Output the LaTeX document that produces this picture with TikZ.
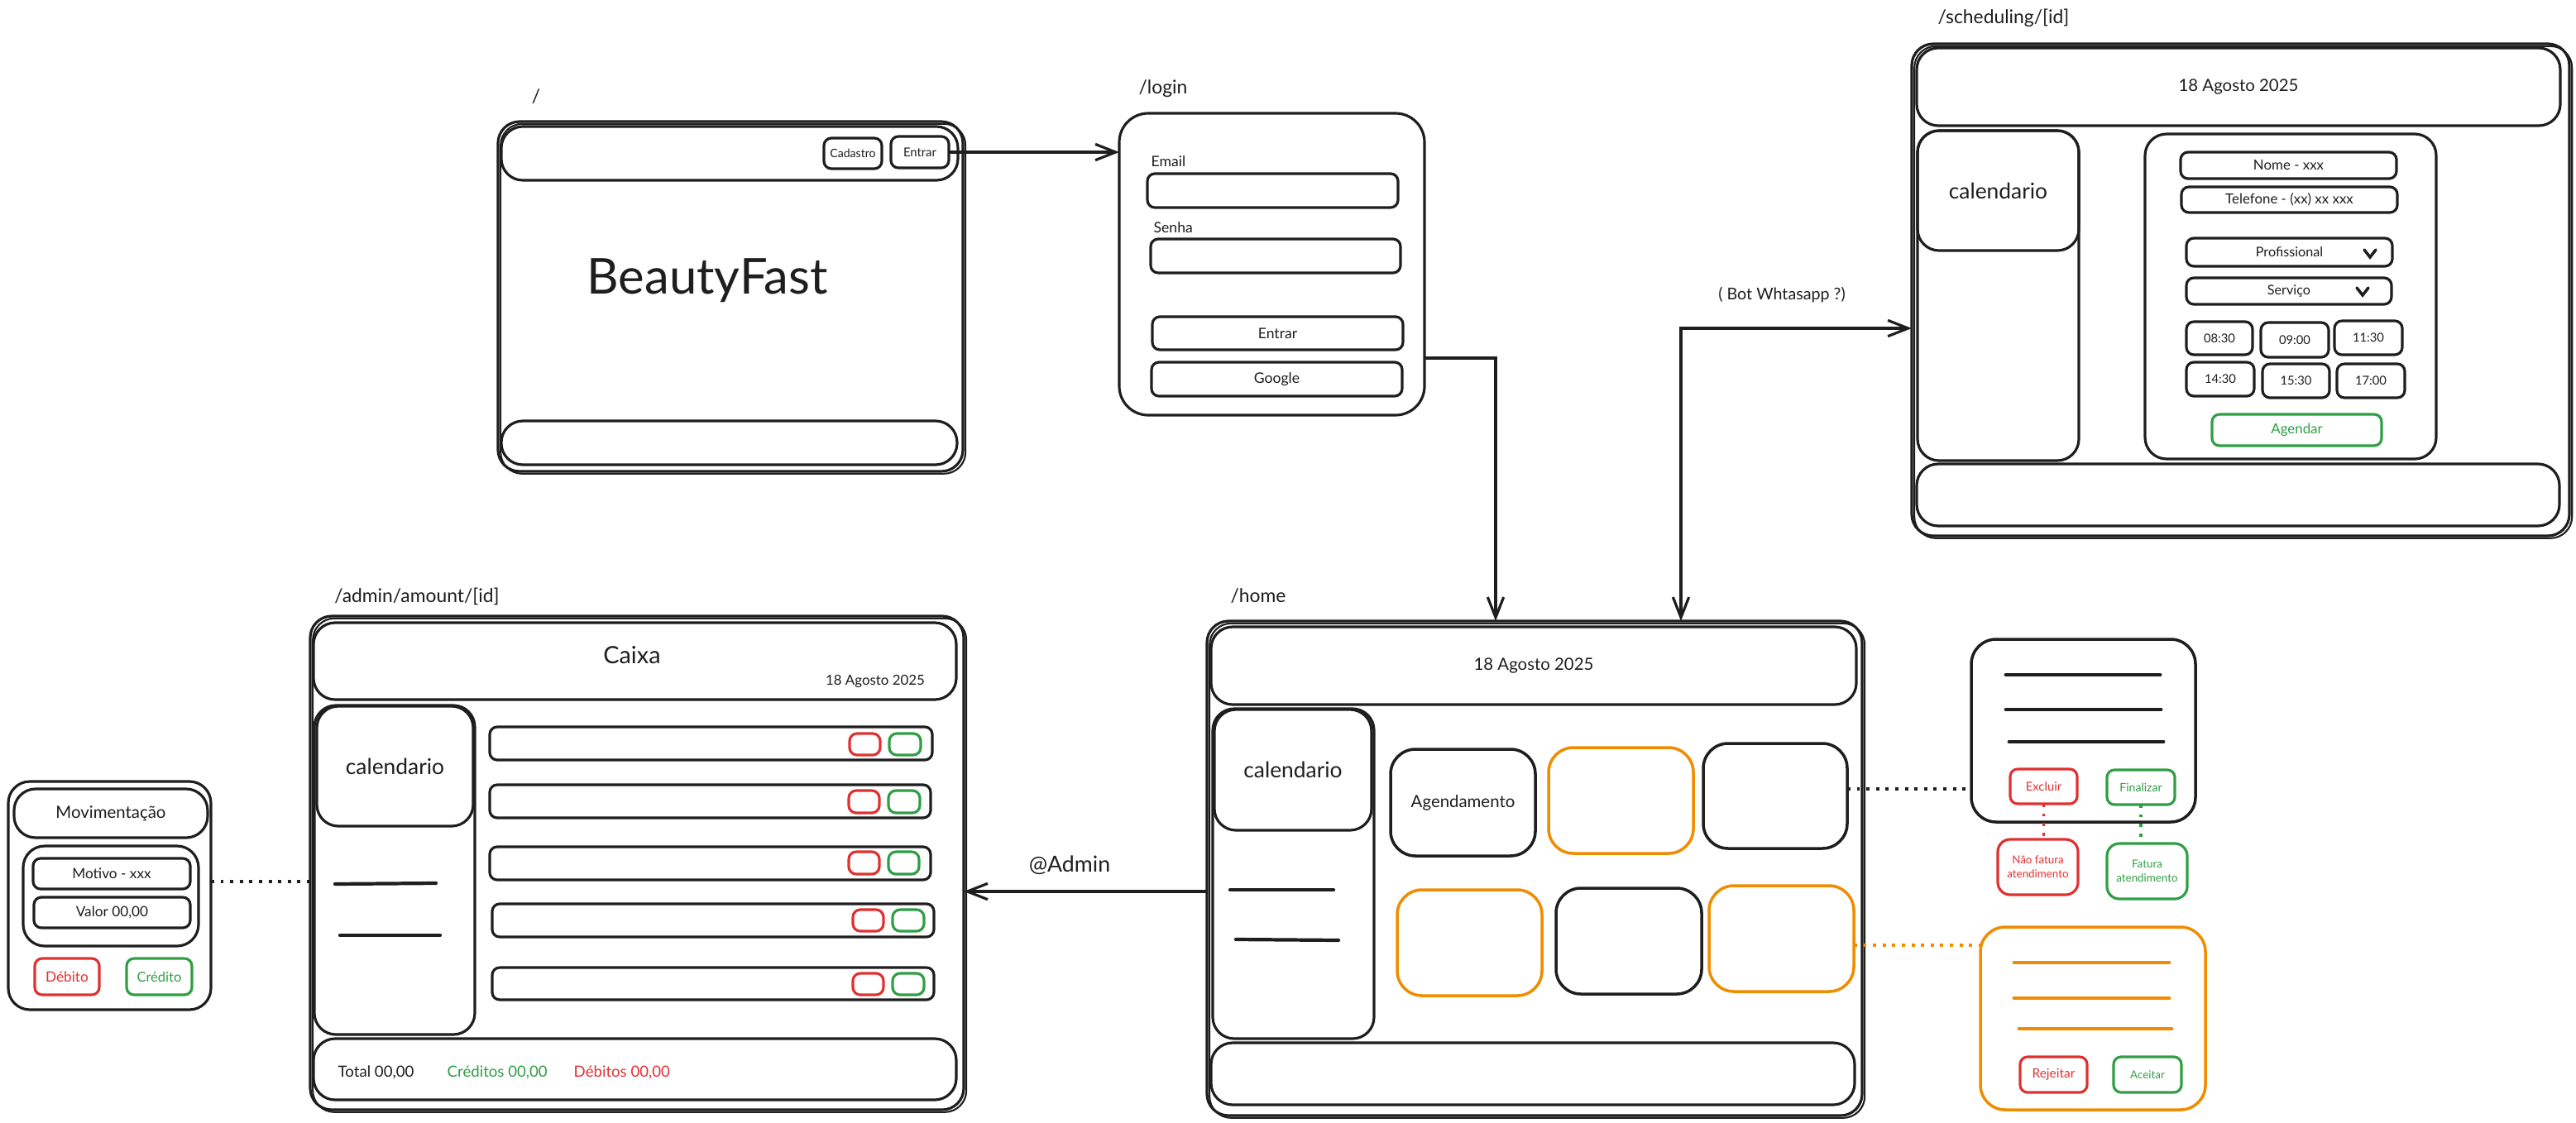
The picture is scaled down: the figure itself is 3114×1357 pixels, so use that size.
\documentclass[tikz,border=0pt]{standalone}
\usepackage{fontspec}
\setmainfont{Lato}
\usetikzlibrary{arrows.meta}

\definecolor{ink}{HTML}{1E1E1E}
\definecolor{xred}{HTML}{E03131}
\definecolor{xgreen}{HTML}{2F9E44}
\definecolor{xorange}{HTML}{F08C00}

\newcommand{\fsz}[2]{\fontsize{#1}{#2}\selectfont}
% \bx[options]{name}{x1}{y1}{x2}{y2}{text}: a box given by its corners (pixel units)
\newcommand{\bx}[7][]{%
  \node[box,#1,minimum width={(#5-#3)*0.01cm},minimum height={(#6-#4)*0.01cm}]
    (#2) at ({(#3+#5)/2},{(#4+#6)/2}) {#7};}

\tikzset{
  box/.style={draw=ink, text=ink, line width=0.9pt, inner sep=0pt, outer sep=0pt,
    rounded corners=0.22cm},
  frame/.style={rounded corners=0.26cm},
  dbl/.style={postaction={draw=ink, line width=0.6pt,
    transform canvas={shift={(0.9pt,-0.8pt)}}}},
  btn/.style={rounded corners=0.09cm},
  card/.style={rounded corners=0.3cm, line width=1pt},
  redb/.style={draw=xred, text=xred},
  greenb/.style={draw=xgreen, text=xgreen},
  orangeb/.style={draw=xorange},
  lbl/.style={text=ink, inner sep=0pt, font=\fsz{6.5}{8}},
  txt/.style={text=ink, inner sep=0pt},
  bar/.style={draw=ink, line width=1.2pt, line cap=round},
  arr/.style={draw=ink, line width=0.9pt, -{Straight Barb[length=7pt,width=5.5pt]}},
  arrb/.style={draw=ink, line width=0.9pt,
    {Straight Barb[length=7pt,width=5.5pt]}-{Straight Barb[length=7pt,width=5.5pt]}},
  dots/.style={line width=1.1pt, dash pattern=on 1.1pt off 2.2pt},
}

\begin{document}
\begin{tikzpicture}[x=0.01cm, y=-0.01cm]
\useasboundingbox (0,0) rectangle (3114,1357);

%% ---------- landing page "/" ----------
\node[lbl] (lroot) at (648,117) {/};
\bx[frame,dbl]{root}{602}{147}{1164}{570}{}
\bx[frame]{rooth}{606}{153}{1158}{218}{}
\bx[frame]{rootf}{606}{509}{1157}{562}{}
\bx[btn]{cad}{996}{167}{1066}{204}{\fsz{4}{5}Cadastro}
\bx[btn]{ent}{1077}{165}{1147}{203}{\fsz{4.2}{5}Entrar}
\node[txt, anchor=base, font=\fsz{17}{20}] (brand) at (855,355) {BeautyFast};

%% ---------- /login ----------
\node[lbl] (llogin) at (1406,107) {/login};
\bx[rounded corners=0.35cm]{login}{1353}{137}{1722}{502}{}
\node[txt, anchor=base west, font=\fsz{5}{6}] (lemail) at (1391,201) {Email};
\bx[btn]{email}{1387}{210}{1690}{251}{}
\node[txt, anchor=base west, font=\fsz{5}{6}] (lsenha) at (1394,281) {Senha};
\bx[btn]{senha}{1391}{289}{1693}{330}{}
\bx[btn, font=\fsz{5}{6}]{lentrar}{1393}{383}{1696}{423}{Entrar}
\bx[btn, font=\fsz{5}{6}]{google}{1392}{438}{1695}{479}{Google}

%% ---------- /scheduling/[id] ----------
\node[lbl] (lsched) at (2422,22) {/scheduling/[id]};
\bx[frame,dbl]{sched}{2311}{53}{3106}{648}{}
\bx[frame, font=\fsz{5.8}{7}]{schedh}{2317}{58}{3095}{152}{18 Agosto 2025}
\bx[frame]{schedcol}{2318}{158}{2513}{557}{}
\bx[frame, font=\fsz{7.5}{9}]{schedcal}{2318}{158}{2513}{303}{calendario}
\bx[frame]{form}{2593}{162}{2945}{555}{}
\bx[btn, font=\fsz{4.8}{6}]{nome}{2636}{184}{2897}{216}{Nome - xxx}
\bx[btn, font=\fsz{4.8}{6}]{tel}{2637}{226}{2898}{257}{Telefone - (xx) xx xxx}
\bx[btn, font=\fsz{4.6}{6}]{prof}{2643}{288}{2892}{322}{Profissional}
\bx[btn, font=\fsz{4.6}{6}]{serv}{2643}{336}{2891}{368}{Serviço}
\draw[ink, line width=1pt, line cap=round] (2858,302) -- (2865,311) -- (2872,302);
\draw[ink, line width=1pt, line cap=round] (2849,348) -- (2856,357) -- (2863,348);
\bx[btn, font=\fsz{4.2}{5}]{s0830}{2643}{389}{2723}{429}{08:30}
\bx[btn, font=\fsz{4.2}{5}]{s0900}{2733}{390}{2815}{432}{09:00}
\bx[btn, font=\fsz{4.2}{5}]{s1130}{2822}{388}{2904}{429}{11:30}
\bx[btn, font=\fsz{4.2}{5}]{s1430}{2643}{438}{2725}{479}{14:30}
\bx[btn, font=\fsz{4.2}{5}]{s1530}{2735}{440}{2816}{481}{15:30}
\bx[btn, font=\fsz{4.2}{5}]{s1700}{2825}{440}{2907}{481}{17:00}
\bx[btn, greenb, font=\fsz{4.8}{6}]{agendar}{2674}{501}{2879}{539}{Agendar}
\bx[frame]{schedf}{2317}{561}{3094}{636}{}

%% ---------- /home ----------
\node[lbl] (lhome) at (1521,721) {/home};
\bx[frame,dbl]{home}{1459}{751}{2251}{1349}{}
\bx[frame, font=\fsz{5.8}{7}]{homeh}{1464}{758}{2244}{852}{18 Agosto 2025}
\bx[frame]{homecol}{1466}{857}{1661}{1256}{}
\bx[frame, font=\fsz{7.5}{9}]{homecal}{1468}{858}{1658}{1004}{calendario}
\draw[bar] (1487,1076) -- (1612,1076);
\draw[bar] (1494,1136) -- (1618,1137);
\bx[card, font=\fsz{5.8}{7}]{card1}{1681}{906}{1856}{1035}{Agendamento}
\bx[card, orangeb]{card2}{1872}{904}{2047}{1032}{}
\bx[card]{card3}{2059}{899}{2233}{1026}{}
\bx[card, orangeb]{card4}{1689}{1076}{1864}{1204}{}
\bx[card]{card5}{1881}{1074}{2057}{1202}{}
\bx[card, orangeb]{card6}{2066}{1071}{2241}{1199}{}
\bx[frame]{homef}{1464}{1261}{2242}{1336}{}

%% ---------- appointment popups ----------
\bx[card]{pop1}{2383}{773}{2654}{994}{}
\draw[bar, line width=1.4pt] (2425,816) -- (2611,816);
\draw[bar, line width=1.4pt] (2425,858) -- (2612,858);
\draw[bar, line width=1.4pt] (2429,897) -- (2615,897);
\bx[btn, redb, font=\fsz{4.2}{5}]{excl}{2430}{930}{2511}{972}{Excluir}
\bx[btn, greenb, font=\fsz{4}{5}]{fin}{2547}{931}{2629}{973}{Finalizar}
\bx[btn, redb, align=center, font=\fsz{3.8}{4.8}, rounded corners=0.15cm]{naofat}{2415}{1015}{2512}{1082}{Não fatura\\atendimento}
\bx[btn, greenb, align=center, font=\fsz{3.8}{4.8}, rounded corners=0.15cm]{fat}{2547}{1020}{2644}{1087}{Fatura\\atendimento}

\bx[card, orangeb]{pop2}{2394}{1121}{2666}{1342}{}
\draw[bar, draw=xorange, line width=1.4pt] (2435,1164) -- (2622,1164);
\draw[bar, draw=xorange, line width=1.4pt] (2435,1207) -- (2622,1207);
\draw[bar, draw=xorange, line width=1.4pt] (2441,1244) -- (2625,1244);
\bx[btn, redb, font=\fsz{4.4}{5}]{rej}{2442}{1278}{2523}{1321}{Rejeitar}
\bx[btn, greenb, font=\fsz{3.8}{5}]{acc}{2555}{1278}{2637}{1321}{Aceitar}

%% ---------- /admin/amount/[id] ----------
\node[lbl] (ladmin) at (504,721) {/admin/amount/[id]};
\bx[frame,dbl]{admin}{375}{745}{1165}{1342}{}
\bx[frame]{adminh}{379}{753}{1156}{846}{}
\node[txt, font=\fsz{8.2}{10}] (caixa) at (764,792) {Caixa};
\node[txt, font=\fsz{4.8}{6}] (adate) at (1058,824) {18 Agosto 2025};
\bx[frame]{admincol}{380}{853}{574}{1251}{}
\bx[frame, font=\fsz{7.5}{9}]{admincal}{383}{854}{572}{999}{calendario}
\draw[bar] (405,1069) -- (527,1068);
\draw[bar] (411,1131) -- (532,1131);
% cash movement rows
\bx[btn]{row1}{592}{879}{1127}{919}{}
\bx[btn, redb]{row1r}{1027}{887}{1064}{913}{}
\bx[btn, greenb]{row1g}{1075}{887}{1113}{913}{}
\bx[btn]{row2}{592}{949}{1125}{989}{}
\bx[btn, redb]{row2r}{1026}{956}{1063}{983}{}
\bx[btn, greenb]{row2g}{1074}{956}{1112}{983}{}
\bx[btn]{row3}{592}{1024}{1125}{1064}{}
\bx[btn, redb]{row3r}{1026}{1030}{1063}{1057}{}
\bx[btn, greenb]{row3g}{1074}{1030}{1111}{1057}{}
\bx[btn]{row4}{595}{1093}{1129}{1133}{}
\bx[btn, redb]{row4r}{1031}{1100}{1068}{1126}{}
\bx[btn, greenb]{row4g}{1079}{1100}{1117}{1126}{}
\bx[btn]{row5}{595}{1170}{1129}{1209}{}
\bx[btn, redb]{row5r}{1031}{1177}{1068}{1203}{}
\bx[btn, greenb]{row5g}{1079}{1177}{1117}{1203}{}
\bx[frame]{adminf}{379}{1256}{1156}{1330}{}
\node[txt, anchor=west, font=\fsz{5.3}{6}] (total) at (408,1297) {Total 00,00};
\node[txt, anchor=west, text=xgreen, font=\fsz{5.3}{6}] (cred) at (540,1297) {Créditos 00,00};
\node[txt, anchor=west, text=xred, font=\fsz{5.3}{6}] (deb) at (693,1297) {Débitos 00,00};

%% ---------- Movimentação popup ----------
\bx[frame]{mov}{10}{945}{255}{1221}{}
\bx[frame, font=\fsz{5.8}{7}]{movh}{17}{954}{251}{1013}{Movimentação}
\bx[frame]{movin}{28}{1023}{240}{1144}{}
\bx[btn, font=\fsz{4.9}{6}]{motivo}{40}{1038}{230}{1075}{Motivo - xxx}
\bx[btn, font=\fsz{4.9}{6}]{valor}{41}{1085}{230}{1122}{Valor 00,00}
\bx[btn, redb, font=\fsz{4.9}{6}]{debito}{42}{1159}{120}{1203}{Débito}
\bx[btn, greenb, font=\fsz{4.7}{6}]{credito}{153}{1159}{232}{1203}{Crédito}

%% ---------- connectors ----------
\draw[arr] (ent.east) -- (ent.east -| login.west);
\coordinate (lh) at (1808,433);
\draw[arr] (lh -| login.east) -| (home.north -| lh);
\coordinate (bw) at (2032,397);
\draw[arrb] (home.north -| bw) |- (bw -| sched.west);
\node[txt, font=\fsz{5.6}{7}] (botlbl) at (2154,357) {( Bot Whtasapp ?)};
\coordinate (ad) at (1300,1078);
\draw[arr] (ad -| home.west) -- (ad -| admin.east);
\node[txt, font=\fsz{7.6}{9}] (admlbl) at (1293,1046) {@Admin};

\coordinate (d1) at (2300,954);
\draw[dots, draw=ink] (d1 -| card3.east) -- (d1 -| pop1.west);
\coordinate (d2) at (2300,1143);
\draw[dots, draw=xorange] (d2 -| card6.east) -- (d2 -| pop2.west);
\draw[dots, draw=xred] (excl.south) -- (excl.south |- naofat.north);
\draw[dots, draw=xgreen] (fin.south) -- (fin.south |- fat.north);
\coordinate (d3) at (300,1066);
\draw[dots, draw=ink] (d3 -| mov.east) -- (d3 -| admin.west);
\end{tikzpicture}
\end{document}
